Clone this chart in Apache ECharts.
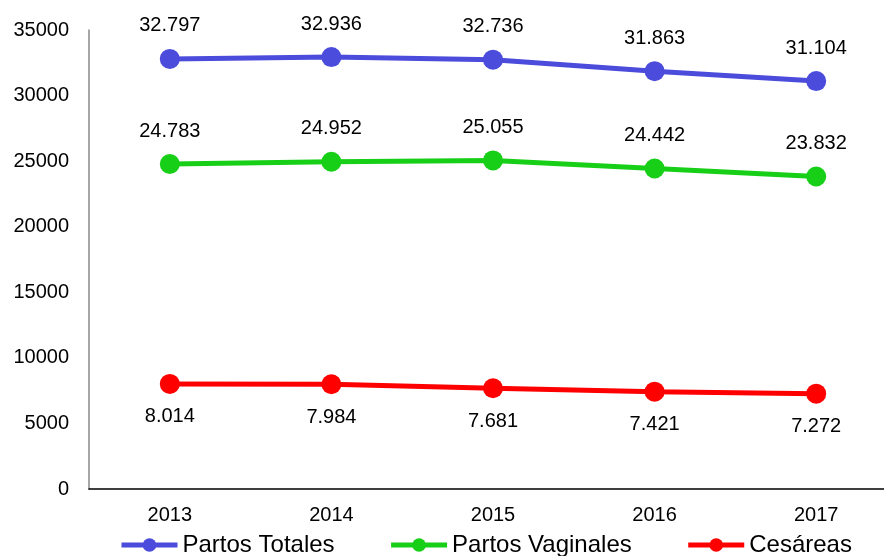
<!DOCTYPE html>
<html>
<head>
<meta charset="utf-8">
<script src="https://cdn.jsdelivr.net/npm/echarts@6/dist/echarts.min.js"></script>
<style>
  html, body { margin: 0; padding: 0; background: #fff; }
  #chart { width: 884px; height: 556px; }
</style>
</head>
<body>
<div id="chart"></div>
<script>
// data
var years = ['2013', '2014', '2015', '2016', '2017'];
var partosTotales = [32797, 32936, 32736, 31863, 31104];
var partosVaginales = [24783, 24952, 25055, 24442, 23832];
var cesareas = [8014, 7984, 7681, 7421, 7272];

function fmt(v) {
  return String(v).replace(/\B(?=(\d{3})+(?!\d))/g, '.');
}

var myChart = echarts.init(document.getElementById('chart'));

function makeSeries(name, data, color, pos) {
  return {
    name: name,
    type: 'line',
    data: data,
    symbol: 'circle',
    symbolSize: 20,
    itemStyle: { color: color },
    lineStyle: { color: color, width: 5 },
    label: {
      show: true,
      position: pos,
      distance: 13,
      color: '#000',
      fontSize: 20,
      fontFamily: 'Liberation Sans, Arial',
      formatter: function (p) { return fmt(p.value); }
    },
    animation: false
  };
}

var option = {
  textStyle: { fontFamily: 'Liberation Sans, Arial' },
  legend: {
    top: 528,
    left: 114,
    padding: 5,
    itemWidth: 56,
    itemHeight: 17,
    itemGap: 54,
    lineStyle: { width: 5 },
    textStyle: { fontSize: 24, color: '#000' },
    data: ['Partos Totales', 'Partos Vaginales', 'Cesáreas']
  },
  grid: {
    left: 89,
    top: 30,
    width: 808,
    height: 459,
    outerBoundsMode: 'none'
  },
  xAxis: {
    type: 'category',
    data: years,
    boundaryGap: true,
    axisLine: { lineStyle: { color: '#000', width: 1.5 } },
    axisTick: { show: false },
    axisLabel: { color: '#000', fontSize: 20, margin: 16 }
  },
  yAxis: {
    type: 'value',
    min: 0,
    max: 35000,
    interval: 5000,
    splitLine: { show: false },
    axisLine: { show: true, lineStyle: { color: '#888', width: 1.5 } },
    axisTick: { show: false },
    axisLabel: {
      color: '#000',
      fontSize: 20,
      margin: 20,
      formatter: function (v) { return String(v); }
    }
  },
  series: [
    makeSeries('Partos Totales', partosTotales, '#4B4BDC', 'top'),
    makeSeries('Partos Vaginales', partosVaginales, '#18CF18', 'top'),
    makeSeries('Cesáreas', cesareas, '#FF0000', 'bottom')
  ]
};

myChart.setOption(option);
</script>
</body>
</html>
